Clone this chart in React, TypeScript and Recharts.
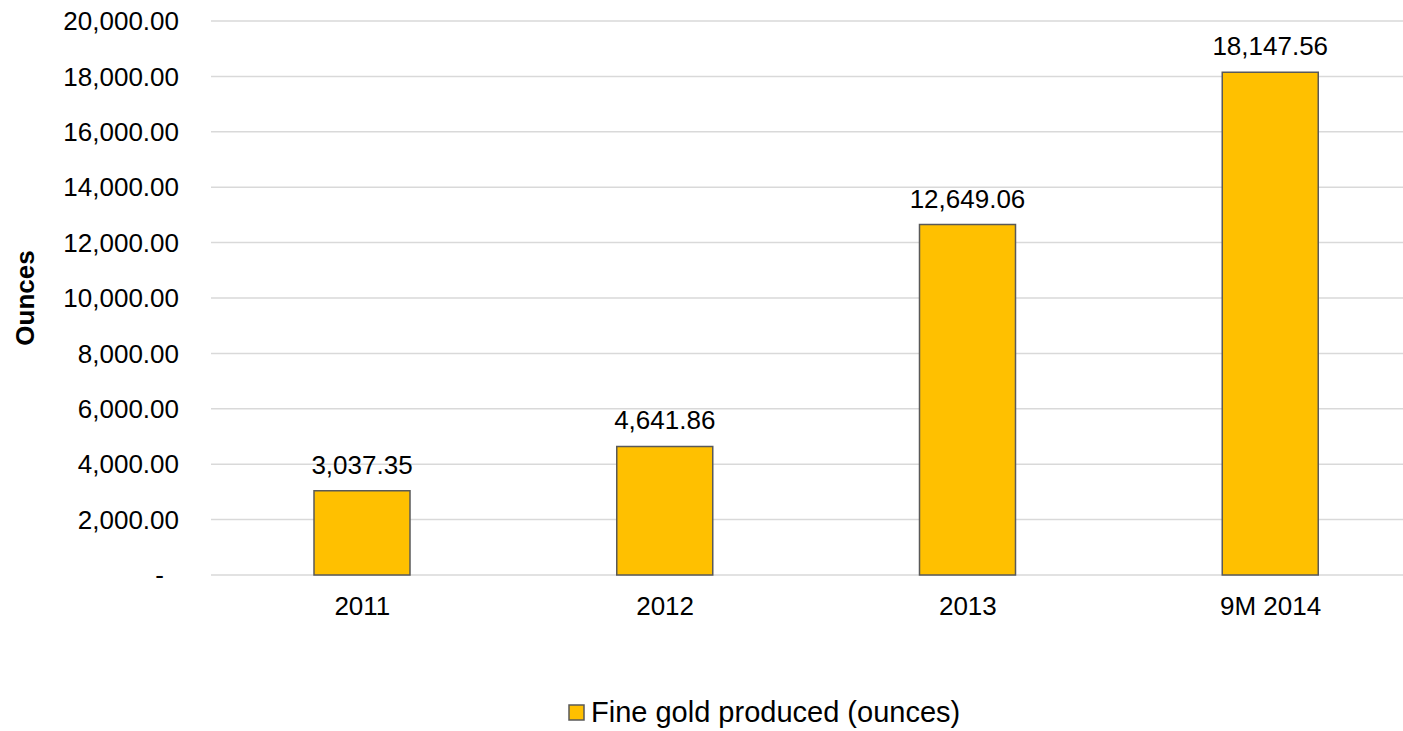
import React from 'react';
import { BarChart, Bar, XAxis, YAxis, CartesianGrid, Legend, LabelList } from 'recharts';

// categories and values
const periods = ['2011', '2012', '2013', '9M 2014'];
const goldOunces = [3037.35, 4641.86, 12649.06, 18147.56];
const yTicks = [0, 2000, 4000, 6000, 8000, 10000, 12000, 14000, 16000, 18000, 20000];

const data = periods.map((p, i) => ({ period: p, gold: goldOunces[i] }));

const FONT = '"Liberation Sans", Arial, Helvetica, sans-serif';

const fmt = (v: number) =>
  v.toLocaleString('en-US', { minimumFractionDigits: 2, maximumFractionDigits: 2 });

const YTick = (props: any) => {
  const { x, y, payload } = props;
  const zero = payload.value === 0;
  return (
    <text
      x={zero ? x - 15 : x}
      y={y}
      dy="0.355em"
      textAnchor="end"
      fontSize={26}
      fontFamily={FONT}
      fill="#000"
    >
      {zero ? '-' : fmt(payload.value)}
    </text>
  );
};

const LegendBox = (props: any) => {
  const items = props.payload || [];
  return (
    <div style={{ height: 34, display: 'flex', alignItems: 'center', fontFamily: FONT, fontSize: 29, color: '#000' }}>
      {items.map((it: any) => (
        <div key={it.value} style={{ display: 'flex', alignItems: 'center' }}>
          <svg width={17} height={17} style={{ marginRight: 6 }}>
            <rect x={1} y={1} width={15} height={15} fill="#FFC000" stroke="#595959" strokeWidth={1.5} />
          </svg>
          <span>{it.value}</span>
        </div>
      ))}
    </div>
  );
};

export default function App() {
  return (
    <div style={{ position: 'absolute', left: 0, top: 0, width: 1403, height: 731, overflow: 'hidden', background: '#fff' }}>
      <BarChart
        width={1430}
        height={731}
        data={data}
        margin={{ top: 21, right: 8, left: 60, bottom: 62 }}
        style={{ fontFamily: FONT }}
      >
        <CartesianGrid vertical={false} stroke="#d9d9d9" strokeWidth={1.5} />
        <XAxis
          dataKey="period"
          axisLine={false}
          tickLine={false}
          tickSize={0}
          tickMargin={22}
          height={60}
          tick={{ fontSize: 26, fill: '#000', fontFamily: FONT }}
        />
        <YAxis
          domain={[0, 20000]}
          ticks={yTicks}
          interval={0}
          axisLine={false}
          tickLine={false}
          tickSize={0}
          tickMargin={32}
          width={151}
          tick={<YTick />}
          label={{
            value: 'Ounces',
            angle: -90,
            position: 'insideLeft',
            dx: -40,
            style: { fontSize: 26, fontWeight: 'bold', fill: '#000', fontFamily: FONT, textAnchor: 'middle' },
          }}
        />
        <Legend
          verticalAlign="bottom"
          height={34}
          content={<LegendBox />}
          wrapperStyle={{ top: 695, bottom: 'auto', left: 568, width: 'auto' }}
        />
        <Bar
          dataKey="gold"
          name="Fine gold produced (ounces)"
          fill="#FFC000"
          stroke="#595959"
          strokeWidth={1.5}
          barSize={96}
          isAnimationActive={false}
        >
          <LabelList
            dataKey="gold"
            position="top"
            offset={17}
            formatter={(v: any) => fmt(Number(v))}
            style={{ fontSize: 26, fill: '#000', fontFamily: FONT }}
          />
        </Bar>
      </BarChart>
    </div>
  );
}
